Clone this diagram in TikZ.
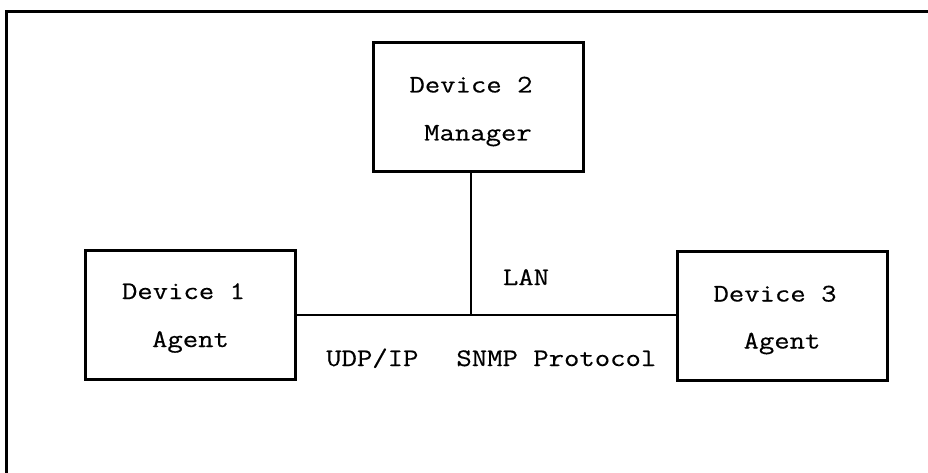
\documentclass[tikz,border=0pt]{standalone}
\usepackage{fontspec}
\setmonofont[FakeStretch=1.18,FakeBold=0.4]{Latin Modern Mono}
\begin{document}
\begin{tikzpicture}[x=1pt,y=-1pt,
  devbox/.style={draw=black,line width=3pt,minimum width=210pt,minimum height=129pt,inner sep=0pt,outer sep=0pt},
  wire/.style={draw=black,line width=2pt},
  frameline/.style={draw=black,line width=3pt},
  lbl/.style={font=\ttfamily\fontsize{25.3}{48}\selectfont,inner sep=0pt,anchor=base}]
\clip (0,0) rectangle (928,473);
\fill[white] (0,0) rectangle (928,473);
\draw[frameline] (6,480) -- (6,12) -- (935,12);
% boxes
\node[devbox] (d1) at (190.5,315) {};
\node[devbox] (d2) at (478,107.5) {};
\node[devbox] (d3) at (782,315.5) {};
% box texts
\node[lbl,xshift=-7pt,yshift=16pt] (d1a) at (d1.center) {Device 1};
\node[lbl,yshift=-32pt] (d1b) at (d1.center) {Agent};
\node[lbl,xshift=-7pt,yshift=15pt] (d2a) at (d2.center) {Device 2};
\node[lbl,yshift=-33pt] (d2b) at (d2.center) {Manager};
\node[lbl,xshift=-7pt,yshift=14pt] (d3a) at (d3.center) {Device 3};
\node[lbl,yshift=-33pt] (d3b) at (d3.center) {Agent};
% connectors
\coordinate (j) at (471,315);
\draw[wire] (d1.east) -- (d1.east -| d3.west);
\draw[wire] (j |- d2.south) -- (j);
% labels
\node[lbl] (lan) at (526,285) {LAN};
\node[lbl,anchor=base west] (proto) at (326,366) {UDP/IP\hspace{38pt}SNMP Protocol};
\end{tikzpicture}
\end{document}
